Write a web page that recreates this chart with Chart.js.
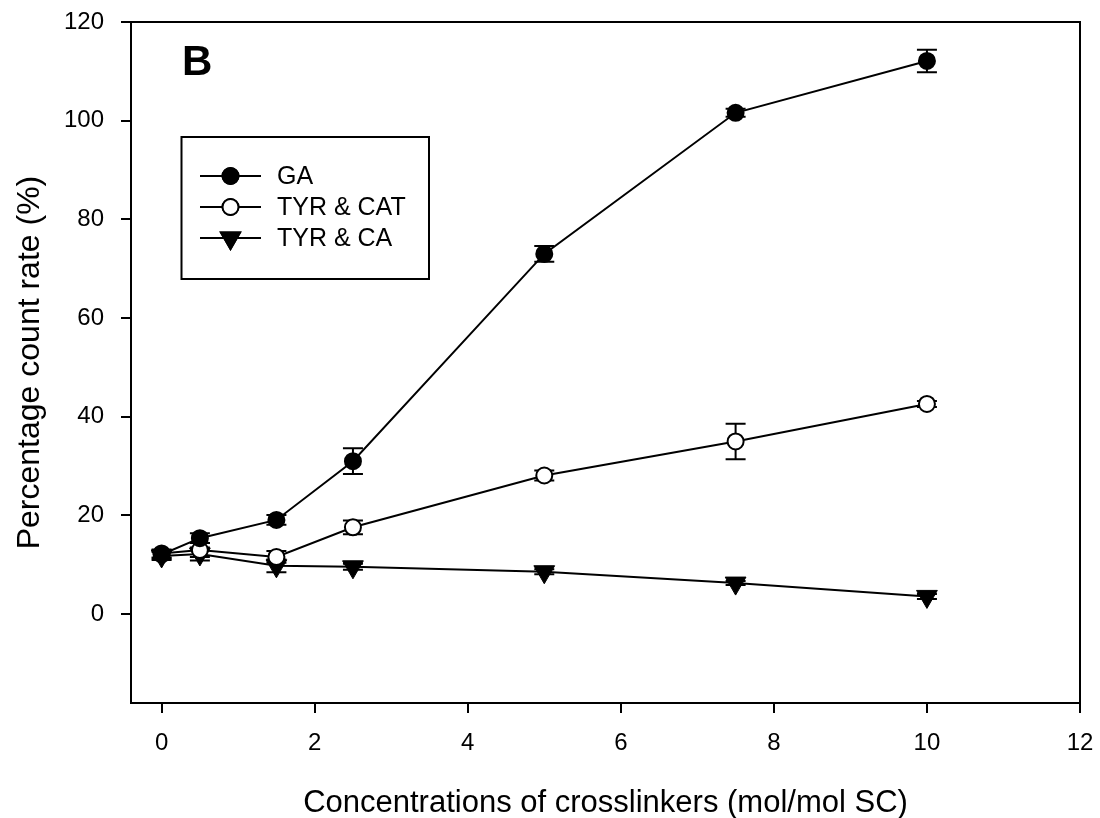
<!DOCTYPE html>
<html lang="en">
<head>
    <meta charset="UTF-8">
    <title>Percentage count rate</title>
    <script src="https://cdn.jsdelivr.net/npm/chart.js"></script>
    <style>
        body { margin: 0; background: #fff; }
        #wrap { width: 1100px; height: 818px; }
    </style>
</head>
<body>
    <div id="wrap"><canvas id="chart" width="1100" height="818"></canvas></div>

    <script>
        // crosslinker concentration (mol/mol SC)
        const concentrations = [0, 0.5, 1.5, 2.5, 5, 7.5, 10];

        const gaMean  = [12.1, 15.4, 19.1, 31.0, 73.0, 101.6, 112.1];
        const gaErr   = [0.8, 1.0, 1.0, 2.6, 1.6, 0.8, 2.3];
        const catMean = [12.3, 13.0, 11.6, 17.6, 28.1, 35.0, 42.6];
        const catErr  = [0.8, 1.4, 1.2, 1.4, 1.0, 3.6, 0.6];
        const caMean  = [11.8, 12.2, 9.8, 9.6, 8.6, 6.3, 3.6];
        const caErr   = [0.8, 1.3, 1.3, 0.6, 0.5, 0.4, 0.5];

        const xTicks = [0, 2, 4, 6, 8, 10, 12];
        const yTicks = [0, 20, 40, 60, 80, 100, 120];

        const FONT = "'Liberation Sans', Arial, sans-serif";

        const toPoints = (ys) => concentrations.map((x, i) => ({ x: x, y: ys[i] }));

        // error bars, drawn under the markers
        const errorBars = {
            id: 'errorBars',
            beforeDatasetsDraw(chart) {
                const ctx = chart.ctx;
                const xs = chart.scales.x, ys = chart.scales.y;
                ctx.save();
                ctx.strokeStyle = '#000';
                ctx.lineWidth = 2;
                chart.data.datasets.forEach(ds => {
                    ds.data.forEach((p, i) => {
                        const e = ds.errors[i];
                        const px = xs.getPixelForValue(p.x);
                        const top = ys.getPixelForValue(p.y + e);
                        const bot = ys.getPixelForValue(p.y - e);
                        ctx.beginPath();
                        ctx.moveTo(px, top); ctx.lineTo(px, bot);
                        ctx.moveTo(px - 10, top); ctx.lineTo(px + 10, top);
                        ctx.moveTo(px - 10, bot); ctx.lineTo(px + 10, bot);
                        ctx.stroke();
                    });
                });
                ctx.restore();
            }
        };

        // closing frame, panel letter and boxed legend
        const decorations = {
            id: 'decorations',
            afterDraw(chart) {
                const ctx = chart.ctx;
                const a = chart.chartArea;
                ctx.save();
                ctx.strokeStyle = '#000';
                ctx.lineWidth = 2;
                ctx.beginPath();
                ctx.moveTo(a.left, a.top);
                ctx.lineTo(a.right, a.top);
                ctx.lineTo(a.right, a.bottom);
                ctx.stroke();

                ctx.fillStyle = '#000';
                ctx.font = 'bold 42px ' + FONT;
                ctx.textBaseline = 'middle';
                ctx.textAlign = 'left';
                ctx.fillText('B', 182, 63);

                // legend box
                ctx.strokeRect(181.5, 137, 247.5, 142);
                const rows = [176, 207, 238];
                chart.data.datasets.forEach((ds, i) => {
                    const y = rows[i];
                    ctx.beginPath();
                    ctx.moveTo(200, y); ctx.lineTo(261, y);
                    ctx.lineWidth = 2;
                    ctx.stroke();
                    Chart.helpers.drawPoint(ctx, {
                        pointStyle: ds.pointStyle,
                        radius: ds.pointStyle === 'triangle' ? 11 : ds.pointRadius,
                        rotation: ds.pointRotation || 0,
                        borderWidth: ds.pointBorderWidth
                    }, 230.5, y);
                    ctx.fillStyle = ds.pointBackgroundColor;
                    ctx.fill();
                    ctx.stroke();
                    ctx.fillStyle = '#000';
                    ctx.font = '25px ' + FONT;
                    ctx.fillText(ds.label, 277, y + 1);
                });
                ctx.restore();
            }
        };

        const ctx = document.getElementById('chart').getContext('2d');

        new Chart(ctx, {
            type: 'line',
            data: {
                datasets: [
                    {
                        label: 'GA',
                        data: toPoints(gaMean),
                        errors: gaErr,
                        borderColor: '#000',
                        borderWidth: 2,
                        pointStyle: 'circle',
                        pointRadius: 8,
                        pointBackgroundColor: '#000',
                        pointBorderColor: '#000',
                        pointBorderWidth: 2
                    },
                    {
                        label: 'TYR & CAT',
                        data: toPoints(catMean),
                        errors: catErr,
                        borderColor: '#000',
                        borderWidth: 2,
                        pointStyle: 'circle',
                        pointRadius: 8,
                        pointBackgroundColor: '#fff',
                        pointBorderColor: '#000',
                        pointBorderWidth: 2
                    },
                    {
                        label: 'TYR & CA',
                        data: toPoints(caMean),
                        errors: caErr,
                        borderColor: '#000',
                        borderWidth: 2,
                        pointStyle: 'triangle',
                        pointRotation: 180,
                        pointRadius: 12,
                        pointBackgroundColor: '#000',
                        pointBorderColor: '#000',
                        pointBorderWidth: 1
                    }
                ]
            },
            options: {
                responsive: false,
                animation: false,
                layout: { padding: { top: 22, right: 20, left: 0, bottom: 0 } },
                scales: {
                    x: {
                        type: 'linear',
                        min: -0.4,
                        max: 12,
                        afterFit: s => {
                            s.height = 115;
                            s.paddingLeft = 0;
                            s.paddingRight = 0;
                        },
                        afterBuildTicks: s => { s.ticks = xTicks.map(v => ({ value: v })); },
                        grid: { drawOnChartArea: false, color: '#000', lineWidth: 2, tickLength: 10 },
                        border: { color: '#000', width: 2 },
                        ticks: { color: '#000', font: { family: FONT, size: 24 }, padding: 16, maxRotation: 0 },
                        title: {
                            display: true,
                            text: 'Concentrations of crosslinkers (mol/mol SC)',
                            color: '#000',
                            font: { family: FONT, size: 31 },
                            padding: { top: 0, bottom: -4 }
                        }
                    },
                    y: {
                        type: 'linear',
                        min: -18,
                        max: 120,
                        afterFit: s => {
                            s.width = 131;
                            s.paddingTop = 0;
                            s.paddingBottom = 0;
                        },
                        afterBuildTicks: s => { s.ticks = yTicks.map(v => ({ value: v })); },
                        grid: { drawOnChartArea: false, color: '#000', lineWidth: 2, tickLength: 10 },
                        border: { color: '#000', width: 2 },
                        ticks: { color: '#000', font: { family: FONT, size: 24 }, padding: 17 },
                        title: {
                            display: true,
                            text: 'Percentage count rate (%)',
                            color: '#000',
                            font: { family: FONT, size: 32 },
                            padding: { top: 11, bottom: 0 }
                        }
                    }
                },
                plugins: {
                    legend: { display: false },
                    tooltip: { enabled: false }
                }
            },
            plugins: [errorBars, decorations]
        });
    </script>
</body>
</html>
